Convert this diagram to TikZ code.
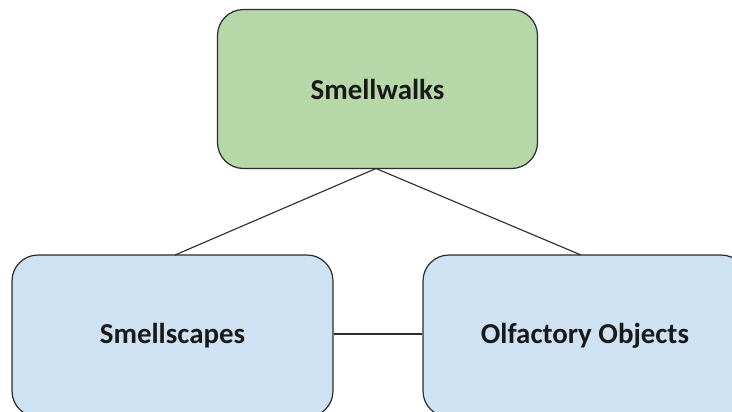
\documentclass[tikz,border=0pt]{standalone}
\usepackage{fontspec}
\setmainfont{Carlito}
\definecolor{topgreen}{HTML}{B6D7A8}
\definecolor{leafblue}{HTML}{CFE2F3}
\definecolor{edgegray}{HTML}{2B2B2B}
\begin{document}
\begin{tikzpicture}[x=1bp,y=-1bp,
  box/.style={draw=edgegray, line width=1.2bp, rounded corners=26bp, inner sep=0pt,
    font=\fontsize{29}{34}\selectfont\bfseries, text=black!90},
  link/.style={draw=edgegray, line width=1.1bp}]
\useasboundingbox (0,0) rectangle (732,411);
\begin{scope}
\clip (0,0) rectangle (732,411);
\node[box, fill=topgreen, minimum width=320bp, minimum height=159bp] (walks) at (377.5,89) {Smellwalks};
\node[box, fill=leafblue, minimum width=321bp, minimum height=162bp] (scapes) at (172.5,336) {Smellscapes};
\node[box, fill=leafblue, minimum width=324bp, minimum height=162bp] (objects) at (585,336) {Olfactory Objects};
\coordinate (hub) at (376,168.5);
\coordinate (lfoot) at (175,255);
\coordinate (rfoot) at (581,255);
\draw[link] (hub) -- (lfoot);
\draw[link] (hub) -- (rfoot);
\draw[link] (scapes.east |- 0,334) -- (objects.west |- 0,334);
\end{scope}
\end{tikzpicture}
\end{document}
